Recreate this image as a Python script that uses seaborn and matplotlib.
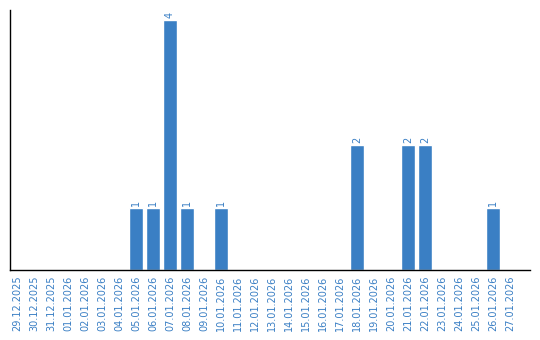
import matplotlib
matplotlib.use("Agg")
import matplotlib.pyplot as plt
import seaborn as sns
import pandas as pd

dates = ["29.12.2025", "30.12.2025", "31.12.2025", "01.01.2026", "02.01.2026",
         "03.01.2026", "04.01.2026", "05.01.2026", "06.01.2026", "07.01.2026",
         "08.01.2026", "09.01.2026", "10.01.2026", "11.01.2026", "12.01.2026",
         "13.01.2026", "14.01.2026", "15.01.2026", "16.01.2026", "17.01.2026",
         "18.01.2026", "19.01.2026", "20.01.2026", "21.01.2026", "22.01.2026",
         "23.01.2026", "24.01.2026", "25.01.2026", "26.01.2026", "27.01.2026"]
counts = [0, 0, 0, 0, 0, 0, 0, 1, 1, 4, 1, 0, 1, 0, 0,
          0, 0, 0, 0, 0, 2, 0, 0, 2, 2, 0, 0, 0, 1, 0]

df = pd.DataFrame({"date": dates, "count": counts})
blue = "#3a7fc4"

sns.set_style("white")
fig = plt.figure(figsize=(5.4, 3.4), dpi=100)
ax = fig.add_axes([10/540, 70/340, 520/540, 260/340])
sns.barplot(data=df, x="date", y="count", color=blue, saturation=1, width=0.82, ax=ax)

for i, v in enumerate(counts):
    if v > 0:
        ax.text(i, v + 0.03, str(v), rotation=90, ha="center", va="bottom",
                fontsize=7, color=blue)

ax.set_xlim(-0.41, 30.18)
ax.set_ylim(0, 4.16)
ax.set_yticks([])
ax.set_xlabel("")
ax.set_ylabel("")
ax.tick_params(axis="x", length=0, pad=4, labelsize=7, labelcolor=blue, rotation=90)
for s in ["top", "right"]:
    ax.spines[s].set_visible(False)
for s in ["left", "bottom"]:
    ax.spines[s].set_color("black")
    ax.spines[s].set_linewidth(1)

fig.savefig("out.png", dpi=100)
